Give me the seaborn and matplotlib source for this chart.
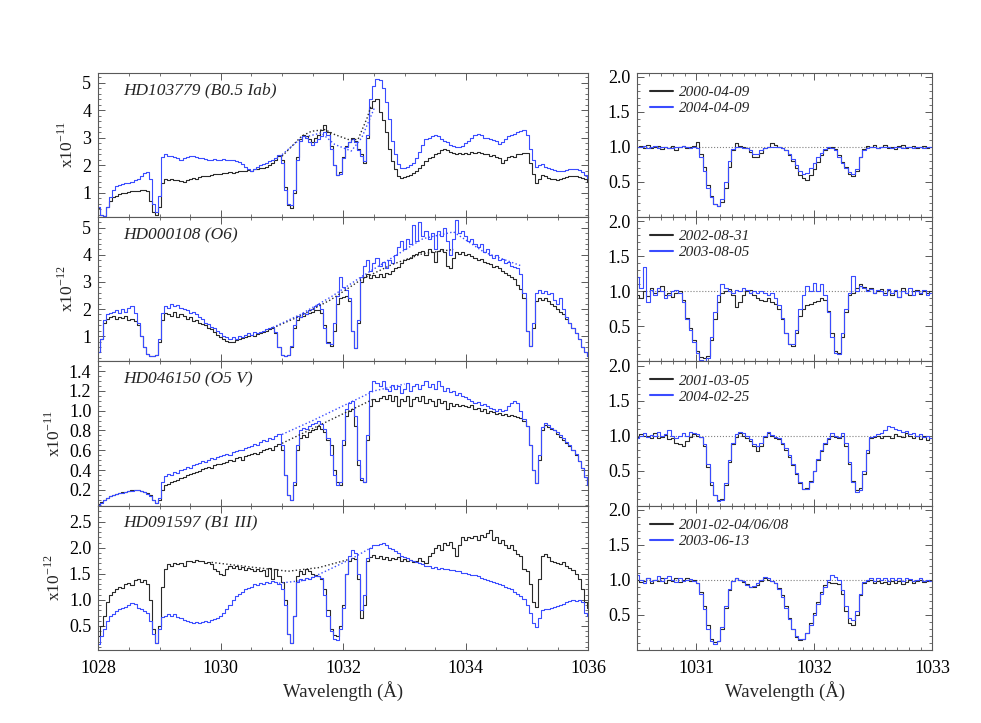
import numpy as np
import pandas as pd
import matplotlib
matplotlib.use("Agg")
import matplotlib.pyplot as plt
from matplotlib.ticker import MultipleLocator, FormatStrFormatter
import seaborn as sns

# --- Data: fluxes (left in units of the panel exponent) ---
WAVE_LEFT = np.linspace(1028.0, 1036.0, 161)      # 0.05 A bins
WAVE_RIGHT = 1030.5 + 0.03 * np.arange(84)        # 0.03 A bins

STAR_NAMES = ['HD103779 (B0.5 Iab)', 'HD000108 (O6)', 'HD046150 (O5 V)', 'HD091597 (B1 III)']
EXPONENTS = ['x10$^{-11}$', 'x10$^{-12}$', 'x10$^{-11}$', 'x10$^{-12}$']
DATES_OLD = ['2000-04-09', '2002-08-31', '2001-03-05', '2001-02-04/06/08']
DATES_NEW = ['2004-04-09', '2003-08-05', '2004-02-25', '2003-06-13']

p1_black = [0.45, 0.2, 0.15, 0.5, 0.72, 0.85, 0.9, 0.95, 0.98, 1.0, 1.02, 1.05, 1.05, 1.08, 1.12, 1.1, 1.05, 0.7, 0.3, 0.2,
            0.5, 1.35, 1.5, 1.45, 1.5, 1.45, 1.48, 1.42, 1.38, 1.45, 1.5, 1.55, 1.52, 1.58, 1.6, 1.62, 1.6, 1.65, 1.68, 1.7,
            1.7, 1.72, 1.73, 1.75, 1.72, 1.76, 1.78, 1.8, 1.78, 1.82, 1.8, 1.85, 1.88, 1.9, 1.92, 1.95, 2.0, 2.1, 2.2, 2.35,
            2.2, 1.2, 0.55, 0.45, 1.0, 2.3, 2.95, 3.1, 3.05, 2.95, 2.85, 3.0, 3.1, 3.3, 3.45, 3.2, 2.7, 2.0, 1.65, 1.75,
            2.3, 2.7, 2.85, 3.0, 2.9, 2.6, 2.4, 2.1, 3.0, 4.1, 4.35, 4.4, 3.95, 3.65, 3.2, 2.6, 2.15, 1.85, 1.6, 1.55,
            1.58, 1.6, 1.65, 1.72, 1.8, 1.9, 2.0, 2.15, 2.25, 2.3, 2.4, 2.45, 2.55, 2.6, 2.55, 2.5, 2.45, 2.4, 2.45, 2.42,
            2.45, 2.4, 2.5, 2.45, 2.5, 2.45, 2.4, 2.42, 2.35, 2.38, 2.3, 2.25, 2.1, 2.2, 2.3, 2.35, 2.3, 2.4, 2.42, 2.45,
            2.45, 2.1, 1.7, 1.35, 1.5, 1.65, 1.6, 1.55, 1.5, 1.52, 1.48, 1.5, 1.55, 1.58, 1.6, 1.62, 1.6, 1.58, 1.55, 1.5,
            1.4]
p1_blue = [0.5, 0.2, 0.15, 0.5, 0.85, 1.1, 1.25, 1.3, 1.32, 1.35, 1.35, 1.4, 1.45, 1.5, 1.6, 1.72, 1.75, 1.5, 0.6, 0.3,
           0.9, 2.3, 2.4, 2.35, 2.35, 2.3, 2.25, 2.2, 2.25, 2.3, 2.35, 2.35, 2.3, 2.28, 2.25, 2.22, 2.2, 2.2, 2.22, 2.2,
           2.2, 2.22, 2.2, 2.2, 2.18, 2.15, 2.12, 2.05, 1.95, 1.85, 1.8, 1.85, 1.95, 2.0, 2.05, 2.1, 2.15, 2.2, 2.28, 2.38,
           2.1, 1.1, 0.6, 0.55, 1.1, 2.2, 2.9, 3.05, 3.0, 2.85, 2.75, 2.85, 2.95, 3.05, 3.2, 3.1, 2.6, 2.0, 1.65, 1.7,
           2.25, 2.65, 2.85, 2.95, 2.85, 2.55, 2.35, 2.15, 3.1, 4.4, 4.9, 5.15, 5.1, 4.8, 4.3, 3.7, 2.9, 2.4, 2.05, 1.9,
           1.9, 1.95, 2.0, 2.1, 2.25, 2.5, 2.75, 2.95, 3.0, 3.05, 3.1, 3.05, 2.95, 2.9, 2.85, 2.75, 2.7, 2.65, 2.65, 2.7,
           2.8, 2.9, 3.0, 3.1, 3.15, 3.1, 3.0, 3.0, 2.95, 2.92, 2.88, 2.78, 2.85, 2.95, 3.05, 3.1, 3.15, 3.2, 3.25, 3.3,
           3.1, 2.6, 2.2, 1.95, 2.0, 2.05, 1.95, 1.9, 1.85, 1.82, 1.8, 1.78, 1.8, 1.82, 1.85, 1.85, 1.85, 1.82, 1.75, 1.65,
           1.55]

p2_black = [0.4, 0.9, 1.5, 1.65, 1.7, 1.75, 1.65, 1.72, 1.68, 1.75, 1.6, 1.65, 1.55, 1.4, 1.0, 0.6, 0.35, 0.25, 0.25, 0.3,
            0.8, 1.6, 1.85, 1.8, 1.75, 1.9, 1.7, 1.8, 1.75, 1.65, 1.7, 1.55, 1.6, 1.5, 1.45, 1.4, 1.3, 1.25, 1.15, 1.05,
            0.95, 0.9, 0.82, 0.78, 0.8, 0.85, 0.9, 0.92, 0.95, 1.0, 1.05, 1.0, 1.08, 1.1, 1.15, 1.2, 1.25, 1.3, 1.1, 0.6,
            0.3, 0.25, 0.3, 0.6, 1.3, 1.6, 1.7, 1.75, 1.8, 1.85, 1.9, 1.95, 1.95, 1.85, 1.4, 0.8, 0.65, 1.2, 2.2, 2.4,
            2.45, 2.5, 2.3, 1.2, 0.55, 1.5, 3.0, 3.2, 3.3, 3.15, 3.25, 3.2, 3.3, 3.2, 3.35, 3.3, 3.4, 3.5, 3.55, 3.7,
            3.8, 3.85, 3.9, 4.0, 4.05, 4.1, 4.15, 4.0, 4.2, 4.1, 3.75, 4.15, 4.2, 4.1, 3.6, 3.5, 3.9, 4.1, 4.05, 4.1,
            4.0, 4.05, 3.95, 3.9, 3.8, 3.85, 3.75, 3.7, 3.65, 3.55, 3.6, 3.5, 3.4, 3.35, 3.25, 3.2, 3.1, 2.9, 2.75, 2.4,
            1.2, 0.65, 1.3, 2.3, 2.4, 2.35, 2.4, 2.3, 2.2, 2.1, 2.0, 1.9, 1.8, 1.65, 1.5, 1.3, 1.1, 0.9, 0.6, 0.4,
            0.25]
p2_blue = [0.4, 0.9, 1.6, 1.8, 1.85, 1.9, 1.95, 1.85, 2.0, 1.9, 2.05, 2.1, 1.85, 1.5, 1.0, 0.6, 0.35, 0.25, 0.25, 0.3,
           0.9, 1.85, 2.1, 2.05, 2.2, 2.1, 2.15, 2.05, 2.0, 1.95, 1.85, 1.9, 1.8, 1.7, 1.65, 1.5, 1.45, 1.35, 1.3, 1.2,
           1.1, 1.0, 0.95, 0.9, 0.95, 0.9, 1.0, 0.95, 1.05, 1.1, 1.05, 1.15, 1.1, 1.15, 1.2, 1.25, 1.3, 1.35, 1.15, 0.6,
           0.3, 0.25, 0.3, 0.65, 1.4, 1.75, 1.7, 1.85, 1.8, 1.95, 2.0, 2.1, 2.2, 2.0, 1.3, 0.75, 0.7, 1.5, 2.5, 3.2,
           2.8, 2.7, 2.4, 1.2, 0.55, 1.6, 3.2, 3.6, 3.8, 3.4, 3.7, 3.9, 3.6, 3.75, 3.5, 3.8, 3.7, 4.0, 4.3, 4.5,
           4.2, 4.6, 4.4, 5.1, 4.5, 5.2, 4.7, 4.9, 4.6, 4.8, 4.2, 4.9, 4.7, 5.0, 4.5, 4.0, 4.6, 5.3, 4.8, 4.9,
           4.7, 4.5, 4.6, 4.4, 4.3, 4.4, 4.1, 4.2, 4.0, 3.9, 4.0, 3.8, 3.85, 3.7, 3.75, 3.6, 3.55, 3.5, 3.3, 2.6,
           1.2, 0.65, 1.5, 2.6, 2.7, 2.6, 2.65, 2.55, 2.6, 2.35, 2.2, 2.4, 2.0, 1.7, 1.5, 1.3, 1.1, 0.9, 0.6, 0.4,
           0.25]

p3_black = [0.06, 0.08, 0.1, 0.12, 0.14, 0.15, 0.16, 0.17, 0.18, 0.18, 0.19, 0.2, 0.2, 0.2, 0.19, 0.18, 0.17, 0.15, 0.1, 0.07,
            0.1, 0.2, 0.25, 0.26, 0.28, 0.29, 0.3, 0.32, 0.33, 0.35, 0.36, 0.37, 0.38, 0.39, 0.41, 0.42, 0.43, 0.42, 0.45, 0.46,
            0.46, 0.47, 0.48, 0.5, 0.49, 0.52, 0.53, 0.5, 0.54, 0.55, 0.56, 0.57, 0.56, 0.58, 0.6, 0.61, 0.62, 0.6, 0.64, 0.66,
            0.6, 0.35, 0.15, 0.1, 0.25, 0.6, 0.72, 0.75, 0.73, 0.78, 0.8, 0.82, 0.85, 0.82, 0.78, 0.7, 0.65, 0.4, 0.28, 0.25,
            0.65, 0.95, 1.0, 1.02, 0.85, 0.45, 0.3, 0.28, 0.7, 1.05, 1.12, 1.1, 1.13, 1.15, 1.12, 1.16, 1.1, 1.15, 1.05, 1.12,
            1.1, 1.15, 1.05, 1.12, 1.14, 1.1, 1.15, 1.08, 1.12, 1.1, 1.05, 1.12, 1.08, 1.1, 1.02, 1.08, 1.05, 1.07, 1.05, 1.06,
            1.05, 1.04, 1.06, 1.02, 1.03, 1.0, 1.02, 0.98, 1.0, 0.99, 0.97, 0.98, 0.96, 0.97, 0.95, 0.96, 0.95, 0.94, 0.93, 0.9,
            0.85, 0.65, 0.4, 0.27, 0.5, 0.8, 0.86, 0.84, 0.82, 0.8, 0.76, 0.73, 0.7, 0.67, 0.64, 0.6, 0.55, 0.49, 0.42, 0.33,
            0.25]
p3_blue = [0.05, 0.07, 0.1, 0.12, 0.14, 0.15, 0.16, 0.17, 0.17, 0.18, 0.19, 0.19, 0.2, 0.2, 0.19, 0.18, 0.16, 0.14, 0.1, 0.07,
           0.12, 0.28, 0.34, 0.36, 0.35, 0.38, 0.37, 0.4, 0.41, 0.43, 0.42, 0.45, 0.46, 0.47, 0.49, 0.48, 0.5, 0.52, 0.51, 0.53,
           0.54, 0.55, 0.56, 0.55, 0.58, 0.59, 0.6, 0.6, 0.62, 0.63, 0.64, 0.66, 0.65, 0.68, 0.7, 0.69, 0.72, 0.71, 0.74, 0.76,
           0.65, 0.35, 0.15, 0.1, 0.28, 0.65, 0.8, 0.83, 0.82, 0.85, 0.87, 0.88, 0.9, 0.87, 0.82, 0.72, 0.55, 0.35, 0.25, 0.28,
           0.7, 1.02, 1.08, 1.1, 0.95, 0.5, 0.32, 0.28, 0.75, 1.2, 1.3, 1.28, 1.25, 1.3, 1.22, 1.2, 1.26, 1.22, 1.25, 1.18,
           1.22, 1.28, 1.2, 1.25, 1.27, 1.22, 1.26, 1.3, 1.24, 1.27, 1.22, 1.3, 1.25, 1.2, 1.23, 1.19, 1.2, 1.16, 1.18, 1.15,
           1.14, 1.12, 1.1, 1.08, 1.09, 1.06, 1.07, 1.05, 1.03, 1.02, 1.0, 1.02, 1.0, 1.01, 1.05, 1.08, 1.1, 1.08, 1.0, 0.92,
           0.85, 0.65, 0.4, 0.27, 0.55, 0.84, 0.88, 0.86, 0.83, 0.8, 0.78, 0.75, 0.72, 0.68, 0.65, 0.6, 0.56, 0.49, 0.42, 0.33,
           0.25]

p4_black = [0.3, 0.5, 0.7, 0.95, 1.1, 1.15, 1.2, 1.25, 1.22, 1.3, 1.32, 1.28, 1.38, 1.4, 1.35, 1.38, 1.3, 1.0, 0.45, 0.17,
            0.5, 1.25, 1.6, 1.68, 1.66, 1.7, 1.68, 1.7, 1.66, 1.74, 1.75, 1.72, 1.76, 1.74, 1.75, 1.7, 1.72, 1.68, 1.6, 1.55,
            1.5, 1.47, 1.6, 1.66, 1.62, 1.65, 1.6, 1.64, 1.58, 1.62, 1.6, 1.56, 1.6, 1.55, 1.58, 1.45, 1.62, 1.4, 1.6, 1.45,
            1.35, 1.0, 0.35, 0.17, 0.7, 1.45, 1.55, 1.5, 1.6, 1.55, 1.5, 1.48, 1.45, 1.4, 1.2, 0.8, 0.45, 0.32, 0.3, 0.5,
            0.9, 1.5, 1.75, 1.8, 1.78, 1.4, 0.65, 0.9, 1.75, 1.82, 1.87, 1.8, 1.85, 1.78, 1.82, 1.76, 1.8, 1.78, 1.82, 1.75,
            1.78, 1.74, 1.76, 1.72, 1.75, 1.8, 1.75, 1.7, 1.85, 1.9, 2.0, 2.05, 1.95, 2.1, 2.05, 2.12, 2.0, 1.85, 2.05, 2.2,
            2.15, 2.2, 2.18, 2.22, 2.15, 2.25, 2.2, 2.28, 2.35, 2.15, 2.2, 2.1, 2.15, 2.05, 2.0, 2.05, 1.95, 1.88, 1.85, 1.6,
            1.55, 1.3, 0.95, 0.87, 1.4, 1.85, 1.88, 1.82, 1.75, 1.72, 1.7, 1.68, 1.72, 1.65, 1.62, 1.58, 1.5, 1.4, 1.2, 0.95,
            0.85]
p4_blue = [0.15, 0.3, 0.45, 0.6, 0.7, 0.72, 0.78, 0.82, 0.85, 0.86, 0.9, 0.94, 0.92, 0.85, 0.82, 0.78, 0.75, 0.6, 0.35, 0.17,
           0.45, 0.68, 0.7, 0.72, 0.7, 0.72, 0.68, 0.66, 0.62, 0.6, 0.58, 0.56, 0.58, 0.56, 0.57, 0.6, 0.58, 0.62, 0.64, 0.66,
           0.7, 0.75, 0.82, 0.9, 1.0, 1.08, 1.12, 1.15, 1.2, 1.22, 1.25, 1.3, 1.28, 1.32, 1.3, 1.35, 1.33, 1.36, 1.35, 1.3,
           1.2, 0.9, 0.35, 0.17, 0.7, 1.35, 1.4, 1.38, 1.42, 1.4, 1.44, 1.46, 1.45, 1.42, 1.1, 0.7, 0.4, 0.25, 0.23, 0.45,
           0.85, 1.5, 1.85, 1.95, 1.9, 1.5, 0.81, 1.1, 1.8, 2.0, 2.06, 2.05, 2.08, 2.1, 2.05, 2.0, 1.97, 1.94, 1.9, 1.85,
           1.82, 1.8, 1.76, 1.74, 1.72, 1.7, 1.68, 1.66, 1.65, 1.62, 1.63, 1.6, 1.62, 1.59, 1.6, 1.57, 1.58, 1.55, 1.56, 1.52,
           1.52, 1.5, 1.48, 1.47, 1.45, 1.42, 1.4, 1.38, 1.37, 1.35, 1.32, 1.3, 1.28, 1.25, 1.22, 1.2, 1.15, 1.12, 1.08, 1.02,
           0.9, 0.75, 0.55, 0.47, 0.65, 0.8, 0.82, 0.83, 0.85, 0.86, 0.88, 0.9, 0.92, 0.95, 0.98, 1.0, 0.98, 1.0, 0.95, 0.75,
           0.7]

# dotted continuum fits across the absorption region (wavelength, flux)
cont_black = [
    ([1031.0, 1031.32, 1031.48, 1031.7, 1031.86, 1032.08, 1032.24, 1032.39, 1032.46],
     [2.33, 3.06, 3.24, 3.3, 3.12, 2.94, 2.94, 3.73, 4.2]),
    ([1030.85, 1031.3, 1031.8, 1032.3, 1032.8, 1033.3, 1033.8],
     [1.3, 1.75, 2.35, 3.1, 3.65, 4.05, 4.2]),
    ([1031.0, 1031.5, 1032.0, 1032.5],
     [0.67, 0.82, 0.97, 1.12]),
    ([1029.85, 1030.5, 1031.1, 1031.6, 1032.1],
     [1.72, 1.63, 1.55, 1.62, 1.78]),
]
cont_blue = [
    ([1031.0, 1031.32, 1031.64, 1031.86, 1032.13, 1032.3, 1032.51],
     [2.39, 3.0, 3.18, 2.76, 2.52, 3.0, 4.1]),
    ([1030.85, 1031.3, 1031.8, 1032.3, 1032.8, 1033.3, 1033.8, 1034.3, 1034.9],
     [1.32, 1.8, 2.45, 3.2, 3.9, 4.6, 4.85, 4.1, 3.6]),
    ([1031.0, 1031.5, 1032.0, 1032.5, 1033.0],
     [0.76, 0.9, 1.05, 1.2, 1.27]),
    ([1030.95, 1031.4, 1031.8, 1032.15, 1032.45],
     [1.32, 1.38, 1.6, 1.8, 2.0]),
]

# right column: normalised profiles
r1_black = [1.0, 1.02, 0.99, 1.03, 0.98, 1.0, 1.01, 0.97, 1.0, 0.99,
            1.02, 0.96, 1.0, 1.01, 0.99, 1.0, 1.02, 1.07, 0.9, 0.72,
            0.45, 0.3, 0.18, 0.15, 0.22, 0.42, 0.72, 0.95, 1.05, 1.02,
            1.0, 0.98, 0.93, 0.85, 0.86, 0.92, 0.98, 1.0, 1.05, 1.03,
            1.0, 0.98, 0.95, 0.88, 0.8, 0.7, 0.6, 0.55, 0.53, 0.6,
            0.68, 0.78, 0.88, 0.95, 0.99, 1.0, 0.97, 0.88, 0.78, 0.72,
            0.62, 0.58, 0.65, 0.85, 0.97, 1.02, 1.0, 1.03, 0.98, 1.0,
            1.03, 0.99, 1.0, 0.97, 1.01, 1.03, 0.98, 1.0, 1.02, 0.99,
            1.0, 1.01, 0.98, 1.0]
r1_blue = [1.0, 1.0, 1.01, 0.99, 1.0, 1.01, 0.99, 1.0, 1.0, 0.98,
           0.99, 1.0, 1.0, 1.01, 1.0, 0.99, 1.0, 0.98, 0.85, 0.65,
           0.42, 0.28, 0.18, 0.16, 0.25, 0.5, 0.8, 0.97, 1.0, 1.0,
           0.99, 0.98, 0.95, 0.9, 0.9, 0.95, 0.98, 1.0, 1.0, 1.0,
           1.0, 0.99, 0.96, 0.9, 0.83, 0.74, 0.66, 0.62, 0.63, 0.7,
           0.77, 0.85, 0.92, 0.97, 1.0, 0.99, 0.95, 0.86, 0.77, 0.7,
           0.64, 0.62, 0.68, 0.85, 0.95, 0.99, 1.0, 1.0, 0.99, 1.0,
           1.0, 1.0, 0.99, 1.0, 1.0, 0.99, 1.0, 1.0, 0.99, 1.0,
           1.0, 0.99, 1.0, 1.0]

r2_black = [0.95, 0.9, 1.0, 0.93, 1.05, 0.97, 1.0, 1.08, 0.95, 0.98,
            0.92, 0.98, 1.0, 0.88, 0.62, 0.48, 0.3, 0.15, 0.06, 0.04,
            0.08, 0.3, 0.6, 0.85, 0.98, 1.0, 1.03, 0.95, 0.78, 0.85,
            0.95, 1.0, 1.02, 0.95, 0.9, 0.88, 0.86, 0.9, 0.85, 0.82,
            0.75, 0.6, 0.4, 0.25, 0.22, 0.4, 0.65, 0.75, 0.8, 0.82,
            0.84, 0.86, 0.9, 0.88, 0.72, 0.4, 0.15, 0.12, 0.35, 0.7,
            0.95, 0.98, 1.05, 1.1, 1.06, 1.02, 1.05, 0.98, 1.0, 1.03,
            0.97, 1.02, 0.95, 1.0, 0.92, 1.04, 0.98, 0.94, 1.0, 1.02,
            0.96, 1.0, 0.98, 1.01]
r2_blue = [1.2, 1.05, 1.35, 0.85, 1.02, 0.95, 1.05, 1.0, 0.9, 0.95,
           1.0, 1.02, 0.98, 0.85, 0.6, 0.45, 0.28, 0.12, 0.02, 0.01,
           0.05, 0.35, 0.7, 0.95, 1.1, 1.05, 1.0, 0.98, 1.02, 1.0,
           1.05, 1.02, 0.98, 1.0, 0.97, 1.0, 0.98, 0.95, 0.97, 0.9,
           0.8, 0.62, 0.4, 0.25, 0.24, 0.45, 0.75, 0.95, 1.08, 1.0,
           1.12, 1.0, 1.1, 0.95, 0.7, 0.35, 0.12, 0.1, 0.4, 0.75,
           0.98, 1.22, 1.0, 1.08, 1.05, 1.0, 1.03, 0.97, 1.02, 1.0,
           0.95, 1.03, 0.98, 1.02, 0.92, 1.0, 0.97, 1.04, 0.95, 1.0,
           0.97, 1.02, 0.94, 0.98]

r3_black = [0.98, 1.02, 0.99, 1.0, 0.97, 1.03, 0.96, 0.98, 1.01, 0.95,
            0.97, 0.9, 0.88, 0.85, 0.92, 0.98, 1.02, 1.0, 0.98, 0.85,
            0.55, 0.3, 0.15, 0.08, 0.1, 0.3, 0.62, 0.88, 0.98, 1.03,
            1.0, 0.96, 0.92, 0.85, 0.78, 0.85, 0.98, 1.03, 1.0, 0.97,
            0.95, 0.88, 0.8, 0.7, 0.58, 0.45, 0.32, 0.24, 0.25, 0.35,
            0.5, 0.65, 0.78, 0.88, 0.95, 1.0, 0.98, 0.97, 1.0, 0.85,
            0.6, 0.35, 0.22, 0.25, 0.45, 0.75, 0.97, 0.98, 1.0, 0.97,
            0.99, 1.0, 0.97, 1.02, 1.0, 0.98, 1.03, 1.0, 0.97, 1.0,
            0.95, 0.99, 0.94, 0.96]
r3_blue = [0.96, 1.0, 1.03, 0.98, 1.01, 0.99, 1.05, 1.0, 1.02, 1.08,
           1.0, 0.97, 0.99, 1.03, 1.0, 1.05, 1.04, 1.02, 0.98, 0.88,
           0.6, 0.33, 0.15, 0.07, 0.08, 0.32, 0.65, 0.9, 1.02, 1.05,
           1.03, 1.0, 0.95, 0.88, 0.85, 0.9, 1.0, 1.05, 1.01, 0.98,
           0.96, 0.9, 0.82, 0.72, 0.6, 0.47, 0.33, 0.24, 0.24, 0.34,
           0.5, 0.66, 0.8, 0.9, 0.97, 1.03, 1.0, 0.98, 1.04, 0.9,
           0.62, 0.33, 0.2, 0.22, 0.5, 0.8, 0.98, 1.0, 1.02, 1.04,
           1.08, 1.14, 1.12, 1.1, 1.08, 1.05, 1.06, 1.02, 1.04, 1.0,
           1.02, 0.98, 1.0, 0.97]

r4_black = [1.0, 0.97, 0.99, 1.02, 0.96, 1.0, 0.98, 1.03, 0.95, 1.0,
            0.98, 1.03, 0.97, 1.0, 1.02, 0.99, 1.0, 0.95, 0.82, 0.62,
            0.35, 0.16, 0.11, 0.13, 0.3, 0.6, 0.85, 0.98, 1.02, 1.0,
            0.97, 0.94, 0.9, 0.9, 0.93, 0.98, 1.03, 1.0, 0.98, 0.95,
            0.88, 0.78, 0.62, 0.45, 0.3, 0.18, 0.14, 0.16, 0.24, 0.38,
            0.52, 0.68, 0.82, 0.92, 0.97, 0.96, 0.96, 0.94, 0.8, 0.55,
            0.38, 0.36, 0.5, 0.78, 0.95, 0.98, 1.0, 0.96, 0.98, 0.95,
            0.97, 0.94, 0.98, 0.95, 0.99, 0.94, 0.97, 1.0, 0.95, 0.98,
            1.0, 0.97, 0.99, 1.0]
r4_blue = [1.07, 1.0, 0.96, 1.03, 0.98, 1.0, 1.05, 0.99, 1.02, 1.06,
           1.0, 0.97, 1.02, 0.99, 1.0, 1.01, 0.98, 0.96, 0.8, 0.58,
           0.3, 0.12, 0.08, 0.12, 0.32, 0.62, 0.87, 0.99, 1.03, 1.0,
           0.98, 0.93, 0.9, 0.91, 0.95, 1.0, 1.04, 1.02, 0.99, 0.95,
           0.87, 0.76, 0.6, 0.44, 0.3, 0.2, 0.15, 0.16, 0.24, 0.36,
           0.5, 0.66, 0.8, 0.9, 1.0, 1.07, 1.04, 1.0, 0.85, 0.62,
           0.45, 0.42, 0.55, 0.8, 0.97, 1.0, 1.02, 0.99, 1.03, 1.0,
           1.02, 0.98, 1.03, 1.0, 1.02, 0.99, 1.03, 1.01, 0.98, 1.0,
           1.02, 0.99, 1.0, 0.98]

LEFT_BLACK = [p1_black, p2_black, p3_black, p4_black]
LEFT_BLUE = [p1_blue, p2_blue, p3_blue, p4_blue]
RIGHT_BLACK = [r1_black, r2_black, r3_black, r4_black]
RIGHT_BLUE = [r1_blue, r2_blue, r3_blue, r4_blue]

# --- Style ---
BLACK = '#2a2a2a'
BLUE = '#3a4cff'
LEFT_YLIM = [(0.12, 5.37), (0.07, 5.4), (0.04, 1.5), (0.04, 2.81)]
LEFT_YMAJOR = [1, 1, 0.2, 0.5]
LEFT_YMINOR = [0.2, 0.2, 0.05, 0.1]

sns.set_theme(style="ticks")
plt.rcParams['font.family'] = ['Liberation Serif', 'DejaVu Serif']
plt.rcParams['mathtext.fontset'] = 'custom'
plt.rcParams['mathtext.rm'] = 'Liberation Serif'
plt.rcParams['axes.edgecolor'] = '0.35'
plt.rcParams['axes.linewidth'] = 0.8
for ax_name in ('xtick', 'ytick'):
    plt.rcParams[f'{ax_name}.direction'] = 'in'
    plt.rcParams[f'{ax_name}.color'] = '0.35'
    plt.rcParams[f'{ax_name}.labelcolor'] = 'black'
    plt.rcParams[f'{ax_name}.major.size'] = 5
    plt.rcParams[f'{ax_name}.minor.size'] = 2.5
    plt.rcParams[f'{ax_name}.major.width'] = 0.7
    plt.rcParams[f'{ax_name}.minor.width'] = 0.6
    plt.rcParams[f'{ax_name}.labelsize'] = 13
plt.rcParams['xtick.major.pad'] = 7
plt.rcParams['ytick.major.pad'] = 5


def style_axes(ax):
    ax.tick_params(which='both', top=True, right=True, bottom=True, left=True)
    ax.set_xlabel('')
    ax.set_ylabel('')


def step_line(ax, x, y, color, label=None):
    df = pd.DataFrame({'wave': x, 'flux': y})
    sns.lineplot(data=df, x='wave', y='flux', ax=ax, color=color, lw=0.8,
                 drawstyle='steps-mid', estimator=None, sort=False, label=label,
                 legend=False)


fig = plt.figure(figsize=(9.81, 7.23), dpi=100)
W, H = 981.0, 723.0
TOP = 72.7
PH = 144.3

for i in range(4):
    y0 = 1 - (TOP + PH * (i + 1)) / H
    axl = fig.add_axes([98.3 / W, y0, 490 / W, PH / H])
    axr = fig.add_axes([637.3 / W, y0, 295 / W, PH / H])

    # left: full spectrum
    step_line(axl, WAVE_LEFT, LEFT_BLACK[i], BLACK)
    step_line(axl, WAVE_LEFT, LEFT_BLUE[i], BLUE)
    cx, cy = cont_black[i]
    axl.plot(cx, cy, ls=':', color=BLACK, lw=1.0)
    cx, cy = cont_blue[i]
    axl.plot(cx, cy, ls=':', color=BLUE, lw=1.0)
    axl.set_xlim(1028, 1036)
    axl.set_ylim(*LEFT_YLIM[i])
    axl.xaxis.set_major_locator(MultipleLocator(2))
    axl.xaxis.set_minor_locator(MultipleLocator(0.5))
    axl.yaxis.set_major_locator(MultipleLocator(LEFT_YMAJOR[i]))
    axl.yaxis.set_minor_locator(MultipleLocator(LEFT_YMINOR[i]))
    style_axes(axl)
    axl.set_ylabel(EXPONENTS[i], fontsize=12.5)
    axl.text(0.05, 0.875, STAR_NAMES[i], transform=axl.transAxes, fontsize=12.5,
             style='italic', va='center', ha='left')
    if LEFT_YMAJOR[i] < 1:
        axl.yaxis.set_major_formatter(FormatStrFormatter('%.1f'))

    # right: zoom around the absorption lines, normalised
    axr.axhline(1.0, ls=':', color='0.5', lw=0.8)
    step_line(axr, WAVE_RIGHT, RIGHT_BLACK[i], BLACK, label=DATES_OLD[i])
    step_line(axr, WAVE_RIGHT, RIGHT_BLUE[i], BLUE, label=DATES_NEW[i])
    axr.set_xlim(1030.5, 1033)
    axr.set_ylim(0, 2.06)
    axr.xaxis.set_major_locator(MultipleLocator(1))
    axr.xaxis.set_minor_locator(MultipleLocator(0.1))
    axr.yaxis.set_minor_locator(MultipleLocator(0.1))
    axr.set_yticks([0.5, 1.0, 1.5, 2.0])
    axr.yaxis.set_major_formatter(FormatStrFormatter('%.1f'))
    style_axes(axr)
    leg = axr.legend(loc='upper left', bbox_to_anchor=(0.022, 0.955), frameon=False,
                     prop={'style': 'italic', 'size': 11}, handlelength=1.5,
                     handletextpad=0.4, labelspacing=0.16, borderaxespad=0.0)
    for line in leg.get_lines():
        line.set_linewidth(1.5)

    if i < 3:
        axl.tick_params(labelbottom=False)
        axr.tick_params(labelbottom=False)
    else:
        axl.set_xlabel('Wavelength (Å)', fontsize=13.5, labelpad=3)
        axr.set_xlabel('Wavelength (Å)', fontsize=13.5, labelpad=3)

fig.savefig('out.png', dpi=100)
